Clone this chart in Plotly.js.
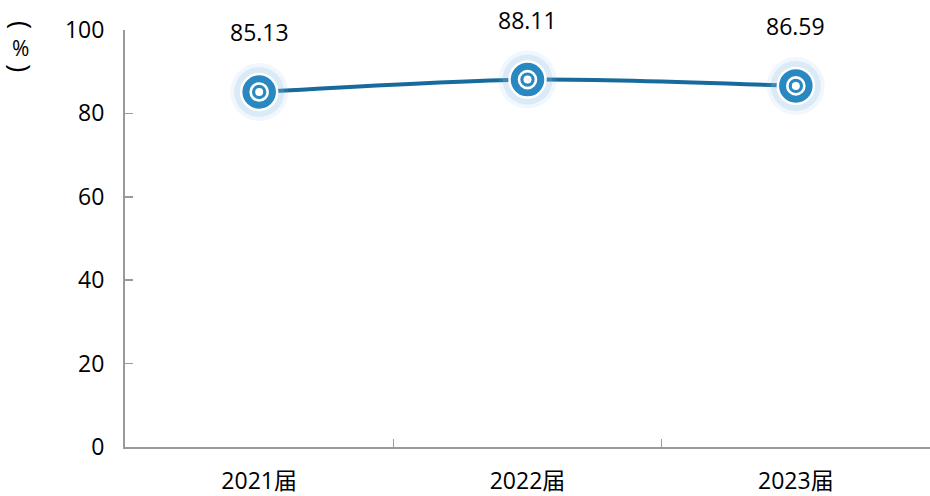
<!DOCTYPE html>
<html><head><meta charset="utf-8">
<script src="https://cdn.plot.ly/plotly-3.0.1.min.js"></script>
<style>body{margin:0;padding:0;background:#fff}#c{width:930px;height:496px}</style>
</head><body><div id="c"></div>
<script>
const categories = ['2021届', '2022届', '2023届'];
const values = [85.13, 88.11, 86.59];
const labels = ['85.13', '88.11', '86.59'];
const yTicks = [0, 20, 40, 60, 80, 100];

const FONT = '"Open Sans", "Noto Sans CJK SC", sans-serif';
const lineColor = '#166a9c';
const markColor = '#2a88c0';

const traces = [
  {x: categories, y: values, type: 'scatter', mode: 'lines',
   line: {color: lineColor, width: 4, shape: 'spline', smoothing: 0.8}, hoverinfo: 'skip'},
  {x: categories, y: values, type: 'scatter', mode: 'markers',
   marker: {size: 58, color: 'rgba(140,190,230,0.12)', line: {width: 0}}, hoverinfo: 'skip'},
  {x: categories, y: values, type: 'scatter', mode: 'markers',
   marker: {size: 50, color: 'rgba(140,190,230,0.22)', line: {width: 0}}, hoverinfo: 'skip'},
  {x: categories, y: values, type: 'scatter', mode: 'markers',
   marker: {size: 36, color: markColor, line: {width: 2.5, color: '#ffffff'}}, hoverinfo: 'skip'},
  {x: categories, y: values, type: 'scatter', mode: 'markers',
   marker: {size: 17, color: markColor, line: {width: 2.6, color: '#ffffff'}}, hoverinfo: 'skip'},
  {x: categories, y: values, type: 'scatter', mode: 'markers',
   marker: {size: 8, color: '#ffffff', line: {width: 0}}, hoverinfo: 'skip'}
];

const annotations = categories.map((c, i) => ({
  x: c, y: values[i], xref: 'x', yref: 'y', text: labels[i], showarrow: false,
  yshift: 60, font: {family: FONT, size: 23, color: '#000'}
}));
// vertical unit label: rotated parentheses around %
const unitX = -0.1292;
annotations.push(
  {xref: 'paper', yref: 'paper', x: unitX, y: 1.012, text: '(', textangle: 90, showarrow: false,
   xanchor: 'center', yanchor: 'middle', font: {family: FONT, size: 27, color: '#000'}},
  {xref: 'paper', yref: 'paper', x: unitX, y: 0.957, text: '%', showarrow: false,
   xanchor: 'center', yanchor: 'middle', font: {family: FONT, size: 21, color: '#000'}},
  {xref: 'paper', yref: 'paper', x: unitX, y: 0.908, text: ')', textangle: 90, showarrow: false,
   xanchor: 'center', yanchor: 'middle', font: {family: FONT, size: 27, color: '#000'}}
);

const layout = {
  width: 930, height: 496,
  margin: {l: 125, r: 0, t: 30, b: 49},
  paper_bgcolor: '#fff', plot_bgcolor: '#fff',
  showlegend: false,
  font: {family: FONT, size: 22, color: '#000'},
  xaxis: {
    type: 'category', categoryorder: 'array', categoryarray: categories,
    range: [-0.5, 2.5], tickson: 'boundaries', ticks: 'inside', ticklen: 8,
    tickwidth: 1.5, tickcolor: '#9a9a9a', showline: true, linecolor: '#9a9a9a',
    linewidth: 2, showgrid: false, zeroline: false, fixedrange: true,
    tickfont: {family: FONT, size: 23, color: '#000'}, ticklabelstandoff: 12
  },
  yaxis: {
    range: [0, 100], tickvals: yTicks, ticks: 'inside', ticklen: 8,
    tickwidth: 1.5, tickcolor: '#9a9a9a', showline: true, linecolor: '#9a9a9a',
    linewidth: 2, showgrid: false, zeroline: false, fixedrange: true,
    tickfont: {family: FONT, size: 23, color: '#000'}, ticklabelstandoff: 14
  },
  annotations: annotations
};

Plotly.newPlot('c', traces, layout, {displayModeBar: false, staticPlot: true});
</script>
</body></html>
